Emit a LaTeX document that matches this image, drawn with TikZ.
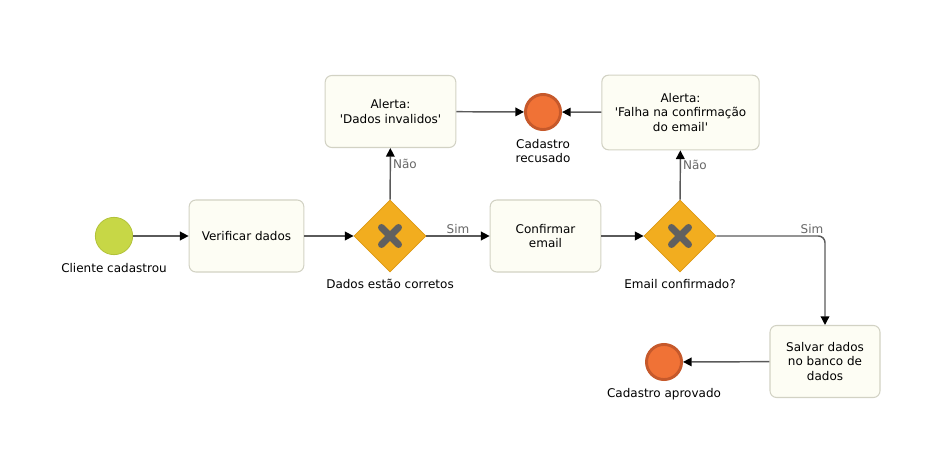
\documentclass[tikz,border=0pt]{standalone}
\usepackage{fontspec}
\setmainfont{DejaVu Sans}
\usetikzlibrary{arrows.meta,shapes.geometric}
\definecolor{caixafundo}{HTML}{FDFDF4}
\definecolor{caixaborda}{HTML}{D2D2C4}
\definecolor{iniciofundo}{HTML}{C7D746}
\definecolor{inicioborda}{HTML}{B2C23A}
\definecolor{fimfundo}{HTML}{F07236}
\definecolor{fimborda}{HTML}{C6592B}
\definecolor{portafundo}{HTML}{F2AD1F}
\definecolor{portaborda}{HTML}{DC9914}
\definecolor{cruz}{HTML}{606060}
\definecolor{linha}{HTML}{5A5A5A}
\definecolor{rotulo}{HTML}{666666}
\begin{document}
\begin{tikzpicture}[x=0.75pt,y=-0.75pt,font=\fontsize{9}{11}\selectfont,
	tarefa/.style={draw=caixaborda,fill=caixafundo,line width=0.8pt,rounded corners=5pt,align=center,minimum height=54pt},
	inicio/.style={circle,draw=inicioborda,fill=iniciofundo,line width=0.6pt,minimum size=28pt,inner sep=0pt},
	fim/.style={circle,draw=fimborda,fill=fimfundo,line width=2.2pt,minimum size=26.3pt,inner sep=0pt},
	porta/.style={diamond,draw=portaborda,fill=portafundo,line width=0.6pt,minimum width=54pt,minimum height=54pt,inner sep=0pt,
		path picture={\draw[cruz,line width=5.2pt,line cap=round]
			([shift={(-6.4pt,-6.4pt)}]path picture bounding box.center)--([shift={(6.4pt,6.4pt)}]path picture bounding box.center)
			([shift={(-6.4pt,6.4pt)}]path picture bounding box.center)--([shift={(6.4pt,-6.4pt)}]path picture bounding box.center);}},
	fluxo/.style={draw=linha,line width=1.1pt,-{Triangle[length=6.5pt,width=6.5pt,fill=black,color=black]}},
	cond/.style={text=rotulo,inner sep=1.5pt},
	legenda/.style={align=center}]
\useasboundingbox(0,0)rectangle(952,452);
\node[inicio](inicio)at(114,236){};
\node[legenda](lbinicio)at(114,268){Cliente cadastrou};
\node[tarefa,minimum width=86pt](verificar)at(246.5,236){Verificar dados};
\node[porta](porta1)at(390,236){};
\node[legenda](lbporta1)at(390,284){Dados estão corretos};
\node[tarefa,minimum width=98pt](alerta1)at(390.5,111.5){Alerta:\\\textquotesingle Dados invalidos\textquotesingle};
\node[fim](recusado)at(543,112){};
\node[legenda](lbrecusado)at(543,151){Cadastro\\recusado};
\node[tarefa,minimum width=83pt](confirmar)at(545.5,236){Confirmar\\email};
\node[porta](porta2)at(680,236){};
\node[legenda](lbporta2)at(680,284){Email confirmado?};
\node[tarefa,minimum width=118pt,minimum height=56pt](alerta2)at(680.5,112.5){Alerta:\\\textquotesingle Falha na confirmação\\do email\textquotesingle};
\node[tarefa,minimum width=82.5pt](salvar)at(825,361.5){Salvar dados\\no banco de\\dados};
\node[fim](aprovado)at(664,362){};
\node[legenda](lbaprovado)at(664,394){Cadastro aprovado};
\draw[fluxo](inicio)--(verificar);
\draw[fluxo](verificar)--(porta1);
\draw[fluxo](porta1)--node[cond,above]{Sim}(confirmar);
\draw[fluxo](porta1)--node[cond,right,pos=.7]{Não}(alerta1);
\draw[fluxo](alerta1)--(recusado);
\draw[fluxo](alerta2)--(recusado);
\draw[fluxo](confirmar)--(porta2);
\draw[fluxo](porta2)--node[cond,right,pos=.7]{Não}(alerta2);
\draw[fluxo,rounded corners=5pt](porta2.east)-|node[cond,above,pos=.44]{Sim}(salvar);
\draw[fluxo](salvar)--(aprovado);
\end{tikzpicture}
\end{document}
